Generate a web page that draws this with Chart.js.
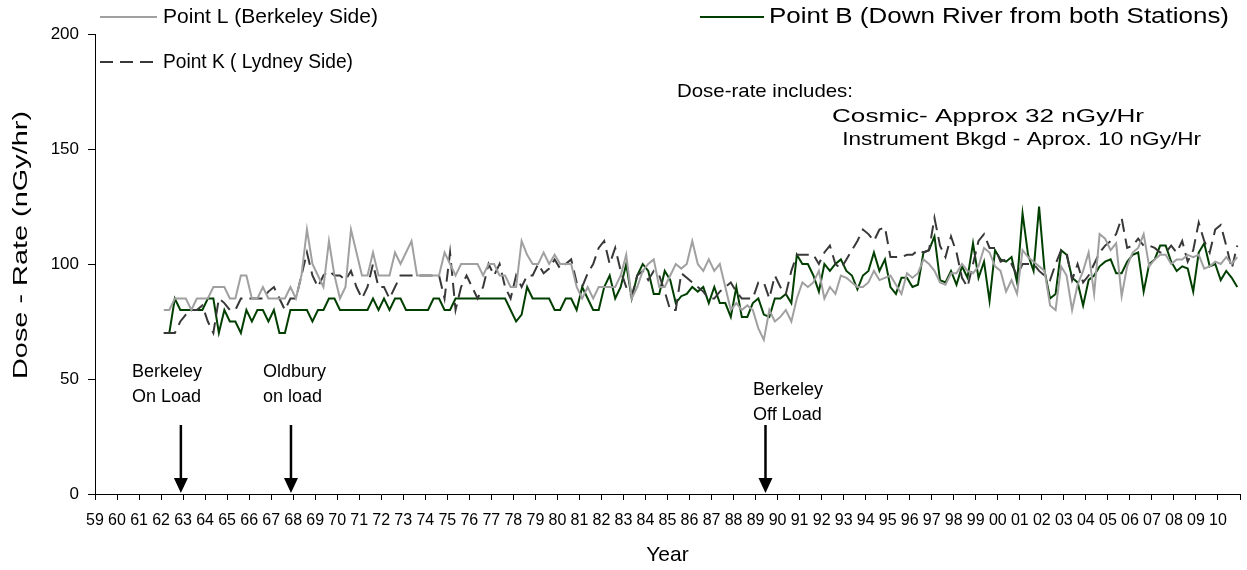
<!DOCTYPE html>
<html><head><meta charset="utf-8">
<script src="https://cdn.jsdelivr.net/npm/chart.js@4.4.1/dist/chart.umd.min.js"></script>
<style>html,body{margin:0;padding:0;background:#fff;}#wrap{width:1247px;height:570px;}</style>
</head><body><div id="wrap"><canvas id="c" width="1247" height="570"></canvas></div>
<script>
// ---- data ----
const yearLabels = ['59','60','61','62','63','64','65','66','67','68','69','70','71','72','73','74','75','76','77','78','79','80','81','82','83','84','85','86','87','88','89','90','91','92','93','94','95','96','97','98','99','00','01','02','03','04','05','06','07','08','09','10'];
const firstYear = 1959;
const seriesStartYear = 1962;   // quarterly readings from 1962 Q1
const yTicks = [0, 50, 100, 150, 200];

const pointL = [
 80,80,85,85,85,80,85,85,85,90, 90,90,85,85,95,95,85,85,90,85,
 85,85,85,90,85,95,115,100,95,90, 110,95,85,90,115,105,95,95,105,95,
 95,95,105,100,105,110,95,95,95,95, 95,105,100,95,100,100,100,100,95,100,
 100,95,95,90,90,110,104,100,100,105, 100,104,100,100,100,90,85,90,85,90,
 90,90,90,95,104,85,90,97,100,102, 90,90,95,100,98,100,110,100,97,102,
 97,100,90,80,83,80,82,80,72,67, 80,75,77,80,75,85,92,90,92,97,
 85,90,87,95,94,92,90,90,92,97, 93,94,95,91,87,96,94,96,102,100,
 97,92,91,96,96,100,97,96,99,107, 105,99,97,88,93,87,106,103,101,99,
 97,82,80,99,95,80,91,97,105,87, 113,111,106,109,86,99,105,107,113,99,
 102,104,104,100,102,102,104,103,104,98, 99,101,100,103,100,103
];
const pointK = [
 70,70,70,75,78,80,80,82,75,70, 85,83,80,80,85,85,85,85,85,88,
 90,85,80,85,85,95,105,95,90,95, 97,95,95,93,97,90,85,90,100,90,
 90,85,90,95,95,95,95,95,95,95, 95,85,105,80,90,95,90,85,90,100,
 95,100,90,85,95,90,95,95,100,96, 98,102,98,100,102,92,90,96,100,107,
 110,100,107,97,90,86,95,97,93,97, 95,88,80,80,96,94,92,90,88,85,
 85,88,90,92,88,85,85,85,92,92, 85,95,90,87,97,104,104,104,104,100,
 105,108,100,98,102,106,110,115,113,110, 115,116,103,103,103,104,104,106,105,106,
 120,108,103,112,105,94,90,100,110,113, 107,107,101,102,100,95,100,100,100,97,
 95,93,100,106,105,93,100,92,95,100, 105,108,110,113,120,107,108,111,108,108,
 107,105,105,108,105,110,101,106,118,110, 105,115,117,108,98,108
];
const pointB = [
 70,70,85,80,80,80,80,80,85,85, 70,80,75,75,70,80,75,80,80,75,
 80,70,70,80,80,80,80,75,80,80, 85,85,80,80,80,80,80,80,85,80,
 85,80,85,85,80,80,80,80,80,85, 85,80,80,85,85,85,85,85,85,85,
 85,85,85,80,75,78,90,85,85,85, 85,80,80,85,85,80,90,85,80,80,
 90,95,85,90,100,85,95,100,97,87, 87,97,93,83,86,87,90,88,90,83,
 90,83,83,77,90,77,77,83,85,78, 77,85,85,87,83,104,100,100,95,88,
 100,97,100,102,97,95,89,95,97,105, 97,102,90,87,94,94,90,91,105,106,
 112,93,92,97,91,99,94,109,94,101, 84,106,102,101,103,92,122,104,97,125,
 97,85,87,106,104,94,92,82,93,95, 99,101,102,96,96,101,104,105,88,100,
 102,108,108,101,97,99,98,88,105,109, 99,100,93,97,94,90
];
const seriesNames = ['Point L (Berkeley Side)', 'Point K ( Lydney Side)', 'Point B (Down River from both Stations)'];
const events = [
  {year: 1962.9, lines: ['Berkeley', 'On Load']},
  {year: 1967.9, lines: ['Oldbury', 'on load']},
  {year: 1989.45, lines: ['Berkeley', 'Off Load']}
];
const noteLines = ['Dose-rate includes:', 'Cosmic- Approx 32 nGy/Hr', ' Instrument Bkgd - Aprox. 10 nGy/Hr'];

// ---- build ----
const FONT = "'Liberation Sans', Arial, sans-serif";
const toXY = arr => arr.map((v, i) => ({x: seriesStartYear + (i + 0.5) / 4, y: v}));

const datasets = [
  {label: seriesNames[0], data: toXY(pointL), borderColor: '#a0a0a0', borderWidth: 2},
  {label: seriesNames[1], data: toXY(pointK), borderColor: '#383838', borderWidth: 2, borderDash: [13, 7]},
  {label: seriesNames[2], data: toXY(pointB), borderColor: '#003f00', borderWidth: 2}
];

// layout of overlay texts: position, font size, target width (px)
const legendLayout = [
  {x: 100, y: 17, len: 57, tx: 163, size: 21, w: 215},
  {x: 100, y: 62, len: 57, tx: 163, size: 21, w: 190},
  {x: 700, y: 17, len: 64, tx: 769, size: 22, w: 460}
];
const noteLayout = [
  {x: 677, y: 92, size: 19, w: 176},
  {x: 832, y: 117, size: 19, w: 312},
  {x: 836, y: 140, size: 19, w: 365}
];
const eventLayout = [{x: 132, y: 372}, {x: 263, y: 372}, {x: 753, y: 390}];

function drawText(ctx, text, x, y, size, w) {
  ctx.font = size + 'px ' + FONT;
  const nat = ctx.measureText(text).width;
  const sx = w ? w / nat : 1;
  ctx.save();
  ctx.translate(x, y);
  ctx.scale(sx, 1);
  ctx.textAlign = 'left';
  ctx.fillText(text, 0, 0);
  ctx.restore();
}

const overlay = {
  id: 'overlay',
  afterDraw(chart) {
    const {ctx, scales: {x, y}} = chart;
    ctx.save();
    ctx.fillStyle = '#000';
    ctx.textBaseline = 'middle';
    // legend
    chart.data.datasets.forEach((ds, i) => {
      const p = legendLayout[i];
      ctx.save();
      ctx.strokeStyle = ds.borderColor;
      ctx.lineWidth = ds.borderWidth;
      ctx.setLineDash(ds.borderDash || []);
      ctx.beginPath(); ctx.moveTo(p.x, p.y); ctx.lineTo(p.x + p.len, p.y); ctx.stroke();
      ctx.restore();
      drawText(ctx, ds.label, p.tx, p.y, p.size, p.w);
    });
    // notes
    noteLines.forEach((t, i) => { const n = noteLayout[i]; drawText(ctx, t, n.x, n.y, n.size, n.w); });
    // event labels and arrows
    events.forEach((ev, i) => {
      const lp = eventLayout[i];
      ev.lines.forEach((t, j) => drawText(ctx, t, lp.x, lp.y + j * 25, 18, null));
      const px = x.getPixelForValue(ev.year);
      const yTop = y.getPixelForValue(30), yBot = y.getPixelForValue(0) - 1;
      ctx.strokeStyle = '#000'; ctx.lineWidth = 2.5; ctx.setLineDash([]);
      ctx.beginPath(); ctx.moveTo(px, yTop); ctx.lineTo(px, yBot - 12); ctx.stroke();
      ctx.beginPath(); ctx.moveTo(px - 7, yBot - 15); ctx.lineTo(px + 7, yBot - 15); ctx.lineTo(px, yBot); ctx.closePath(); ctx.fill();
    });
    // axis titles
    ctx.font = '21px ' + FONT;
    ctx.textAlign = 'center';
    ctx.fillText('Year', (x.left + x.right) / 2, 555);
    ctx.save();
    ctx.translate(21, 245);
    ctx.rotate(-Math.PI / 2);
    ctx.font = '21px ' + FONT;
    const tw = ctx.measureText('Dose - Rate (nGy/hr)').width;
    ctx.scale(268 / tw, 1);
    ctx.fillText('Dose - Rate (nGy/hr)', 0, 0);
    ctx.restore();
    ctx.restore();
  }
};

new Chart(document.getElementById('c'), {
  type: 'line',
  data: {datasets},
  options: {
    responsive: false,
    animation: false,
    devicePixelRatio: 1,
    layout: {padding: {top: 34, right: 7, left: 0, bottom: 0}},
    elements: {point: {radius: 0}, line: {tension: 0, fill: false}},
    plugins: {legend: {display: false}, tooltip: {enabled: false}},
    scales: {
      x: {
        type: 'linear', min: firstYear, max: firstYear + yearLabels.length,
        afterFit: s => { s.height = 76; s.paddingRight = 0; s.paddingLeft = 0; },
        grid: {drawOnChartArea: false, drawTicks: true, tickLength: 6, color: '#000'},
        border: {color: '#000', width: 1},
        ticks: {
          stepSize: 1, autoSkip: false, maxRotation: 0, minRotation: 0, padding: 11,
          color: '#000', font: {family: FONT, size: 16},
          callback: v => yearLabels[Math.round(v) - firstYear] ?? ''
        }
      },
      y: {
        min: yTicks[0], max: yTicks[yTicks.length - 1],
        afterFit: s => { s.width = 95; s.paddingTop = 0; s.paddingBottom = 0; },
        afterBuildTicks: s => { s.ticks = yTicks.map(v => ({value: v})); },
        grid: {drawOnChartArea: false, drawTicks: true, tickLength: 7, color: '#000'},
        border: {color: '#000', width: 1},
        ticks: {color: '#000', padding: 9, font: {family: FONT, size: 17}}
      }
    }
  },
  plugins: [overlay]
});
</script></body></html>
